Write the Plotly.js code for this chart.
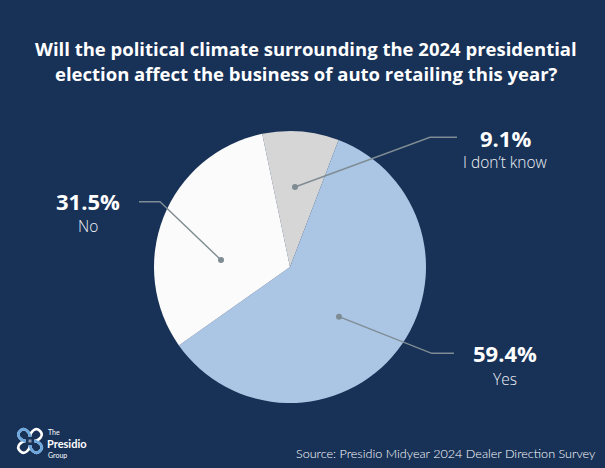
<!DOCTYPE html>
<html>
<head>
<meta charset="utf-8">
<script src="https://cdn.plot.ly/plotly-3.0.1.min.js"></script>
<style>html,body{margin:0;padding:0;background:#173157;}#chart{width:605px;height:468px;}</style>
</head>
<body>
<div id="chart"></div>
<script>
// ---- data ----
const categories = ["I don\u2019t know", "Yes", "No"];
const values = [9.1, 59.4, 31.5];
const valueLabels = ["9.1%", "59.4%", "31.5%"];
const sliceColors = ["#d6d6d6", "#abc6e4", "#fbfbfb"];

const W = 605, H = 468;
const navy = "#173157";
const lineColor = "#7f8c93";
const FONT = "'Open Sans', Lato, sans-serif";

// label layout: [anchor dot, elbow, end of horizontal, label centre x, value y, name y]
const labelLayout = [
  {dot:[295,187], elbow:[430,137.3], end:[457,137.3], cx:505, vy:138, ny:162},
  {dot:[339,316.7], elbow:[431.7,353.3], end:[454,353.3], cx:505, vy:353, ny:379},
  {dot:[221,260], elbow:[160,201.7], end:[139,201.7], cx:88, vy:201, ny:226}
];

const pieCx = 290, pieCy = 267, pieR = 136;

const traces = [
  {type:"scatter", x:[], y:[], hoverinfo:"skip", showlegend:false},
  {
    type:"pie",
    labels: categories,
    values: values,
    sort:false,
    direction:"clockwise",
    rotation:-11.8,
    textinfo:"none",
    hoverinfo:"label+percent",
    marker:{colors: sliceColors, line:{width:0}},
    domain:{x:[(pieCx-pieR)/W,(pieCx+pieR)/W], y:[1-(pieCy+pieR)/H, 1-(pieCy-pieR)/H]},
    showlegend:false
  }
];

const shapes = [];
const annotations = [];
labelLayout.forEach((L,i)=>{
  shapes.push({type:"path", xref:"x", yref:"y",
    path:`M ${L.dot[0]} ${L.dot[1]} L ${L.elbow[0]} ${L.elbow[1]} L ${L.end[0]} ${L.end[1]}`,
    line:{color:lineColor, width:1.4}});
  shapes.push({type:"circle", xref:"x", yref:"y",
    x0:L.dot[0]-3, x1:L.dot[0]+3, y0:L.dot[1]-3, y1:L.dot[1]+3,
    fillcolor:lineColor, line:{width:0}});
  annotations.push({xref:"x", yref:"y", x:L.cx, y:L.vy, text:"<b>"+valueLabels[i]+"</b>",
    showarrow:false, xanchor:"center", yanchor:"middle",
    font:{family:FONT, size:22, color:"#ffffff"}});
  annotations.push({xref:"x", yref:"y", x:L.cx, y:L.ny, text:categories[i],
    showarrow:false, xanchor:"center", yanchor:"middle",
    font:{family:FONT, size:15.5, color:"#f0f2f5", weight:300}});
});

// title
annotations.push({xref:"x", yref:"y", x:306, y:48, text:"<b>Will the political climate surrounding the 2024 presidential</b>",
  showarrow:false, xanchor:"center", yanchor:"middle",
  font:{family:FONT, size:18.5, color:"#ffffff"}});
annotations.push({xref:"x", yref:"y", x:306, y:73, text:"<b>election affect the business of auto retailing this year?</b>",
  showarrow:false, xanchor:"center", yanchor:"middle",
  font:{family:FONT, size:18.5, color:"#ffffff"}});

// source
annotations.push({xref:"x", yref:"y", x:598, y:453, text:"Source: Presidio Midyear 2024 Dealer Direction Survey",
  showarrow:false, xanchor:"right", yanchor:"middle",
  font:{family:"Lato, sans-serif", size:12.6, color:"#ffffff", weight:300}});

// logo text
annotations.push({xref:"x", yref:"y", x:47, y:432, text:"The", showarrow:false, xanchor:"left", yanchor:"middle",
  borderpad:0, font:{family:"Lato, sans-serif", size:7, color:"#ffffff"}});
annotations.push({xref:"x", yref:"y", x:46, y:443.5, text:"<b>Presidio</b>", showarrow:false, xanchor:"left", yanchor:"middle",
  borderpad:0, font:{family:"Lato, sans-serif", size:11, color:"#ffffff"}});
annotations.push({xref:"x", yref:"y", x:47, y:455, text:"Group", showarrow:false, xanchor:"left", yanchor:"middle",
  borderpad:0, font:{family:"Lato, sans-serif", size:7, color:"#ffffff"}});

// logo icon (knot-like cross)
shapes.push({type:"path", xref:"x", yref:"y",
  path:"M 20 431 C 25 426 30 433 30 437 M 40 431 C 35 426 30 433 30 437 M 20 451 C 25 456 30 449 30 445 M 40 451 C 35 456 30 449 30 445 M 20 431 C 15 436 22 441 26 441 M 20 451 C 15 446 22 441 26 441 M 40 431 C 45 436 38 441 34 441 M 40 451 C 45 446 38 441 34 441",
  line:{color:"#ffffff", width:2.6}});
shapes.push({type:"path", xref:"x", yref:"y",
  path:"M 20 431 C 25 426 30 433 30 437 M 20 431 C 15 436 22 441 26 441 M 40 451 C 35 456 30 449 30 445 M 40 451 C 45 446 38 441 34 441",
  line:{color:"#6aa7df", width:2.6}});
shapes.push({type:"rect", xref:"x", yref:"y", x0:28.5, x1:31.5, y0:439.5, y1:442.5, fillcolor:"#8a9bb0", line:{width:0}});

const layout = {
  width:W, height:H,
  margin:{l:0,r:0,t:0,b:0},
  paper_bgcolor:navy, plot_bgcolor:navy,
  xaxis:{range:[0,W], visible:false, fixedrange:true},
  yaxis:{range:[H,0], visible:false, fixedrange:true},
  shapes:shapes, annotations:annotations, showlegend:false
};

Plotly.newPlot("chart", traces, layout, {displayModeBar:false, staticPlot:true});
</script>
</body>
</html>
